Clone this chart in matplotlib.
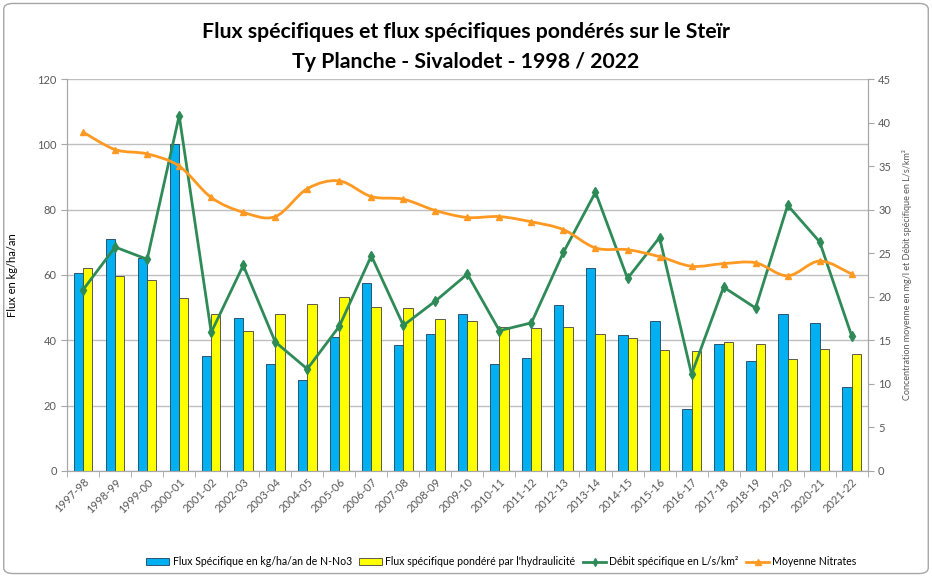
import numpy as np
import matplotlib
matplotlib.use("Agg")
import matplotlib.pyplot as plt
from matplotlib.path import Path
from matplotlib.patches import PathPatch, FancyBboxPatch
from matplotlib.lines import Line2D
from matplotlib.patches import Patch

plt.rcParams['font.family'] = ['Lato', 'DejaVu Sans']

# ---- data ----
campagnes = ['1997-98', '1998-99', '1999-00', '2000-01', '2001-02', '2002-03', '2003-04',
             '2004-05', '2005-06', '2006-07', '2007-08', '2008-09', '2009-10', '2010-11',
             '2011-12', '2012-13', '2013-14', '2014-15', '2015-16', '2016-17', '2017-18',
             '2018-19', '2019-20', '2020-21', '2021-22']
flux_spec = [60.7, 71.1, 65.3, 100.1, 35.2, 46.9, 32.8, 27.8, 41.0, 57.4, 38.4, 42.0, 47.9,
             32.6, 34.7, 50.7, 62.1, 41.6, 45.9, 18.9, 39.0, 33.6, 48.0, 45.4, 25.6]
flux_pond = [62.2, 59.8, 58.6, 53.0, 47.9, 42.8, 47.9, 51.0, 53.3, 50.3, 50.0, 46.6, 45.9,
             44.0, 43.9, 44.0, 41.8, 40.8, 37.0, 36.7, 39.5, 38.7, 34.2, 37.2, 35.7]
debit_spec = [20.8, 25.7, 24.3, 40.8, 15.9, 23.6, 14.8, 11.7, 16.6, 24.7, 16.7, 19.5, 22.6,
              16.1, 17.0, 25.1, 32.0, 22.1, 26.8, 11.1, 21.1, 18.7, 30.5, 26.3, 15.5]
moy_nitrates = [38.9, 36.9, 36.4, 35.0, 31.4, 29.7, 29.2, 32.4, 33.3, 31.5, 31.2, 29.9, 29.1,
                29.2, 28.6, 27.7, 25.6, 25.4, 24.6, 23.5, 23.8, 23.9, 22.4, 24.1, 22.6]

c_blue = '#00B0F0'
c_yellow = '#FFFF00'
c_green = '#2E8B57'
c_orange = '#FF9922'
c_text = '#595959'


def smooth_path(xs, ys):
    # Excel-like smoothed line: cubic bezier segments through the points
    xs = np.asarray(xs, float)
    ys = np.asarray(ys, float)
    verts = [(xs[0], ys[0])]
    codes = [Path.MOVETO]
    n = len(xs)
    for i in range(n - 1):
        p0 = i - 1 if i > 0 else i
        p3 = i + 2 if i + 2 < n else i + 1
        c1 = (xs[i] + (xs[i + 1] - xs[p0]) / 6, ys[i] + (ys[i + 1] - ys[p0]) / 6)
        c2 = (xs[i + 1] - (xs[p3] - xs[i]) / 6, ys[i + 1] - (ys[p3] - ys[i]) / 6)
        verts += [c1, c2, (xs[i + 1], ys[i + 1])]
        codes += [Path.CURVE4] * 3
    return Path(verts, codes)


fig = plt.figure(figsize=(9.32, 5.77), dpi=100)
fig.patches.append(FancyBboxPatch((0.004, 0.006), 0.992, 0.988, boxstyle='round,pad=0,rounding_size=0.01',
                                  transform=fig.transFigure, fc='none', ec='#A6A6A6', lw=1))
ax = fig.add_axes([0.072, 0.184, 0.859, 0.679])
ax2 = ax.twinx()

x = np.arange(len(campagnes))
w = 0.29
ax.bar(x - w / 2, flux_spec, w, color=c_blue, edgecolor='#1F3F5F', linewidth=0.6, zorder=2)
ax.bar(x + w / 2, flux_pond, w, color=c_yellow, edgecolor='#404040', linewidth=0.6, zorder=2)

ax.set_xlim(-0.5, len(campagnes) - 0.5)
ax.set_ylim(0, 120)
ax.set_yticks(range(0, 121, 20))
ax.grid(axis='y', color='#BFBFBF', linewidth=1)
ax.set_axisbelow(True)
ax.set_xticks(x)
ax.set_xticklabels(campagnes, rotation=45, ha='right', rotation_mode='anchor', fontsize=8, color=c_text)
ax.set_xticks(np.arange(-0.5, len(campagnes), 1), minor=True)
ax.tick_params(axis='x', which='major', length=0, pad=4)
ax.tick_params(axis='x', which='minor', length=4, color='#A6A6A6')
ax.tick_params(axis='y', labelsize=8, labelcolor=c_text, color='#A6A6A6', length=4)
ax.set_ylabel('Flux en kg/ha/an', fontsize=8, color='black', labelpad=14)

ax2.set_ylim(0, 45)
ax2.set_yticks(range(0, 46, 5))
ax2.tick_params(axis='y', labelsize=8, labelcolor=c_text, color='#A6A6A6', length=4)
ax2.set_ylabel('Concentration moyenne en mg/l et Débit spécifique en L/s/km²', fontsize=6.5,
               color=c_text, labelpad=8)

for a in (ax, ax2):
    for s in ('top', 'right', 'left', 'bottom'):
        a.spines[s].set_color('#A6A6A6')
    a.spines['top'].set_visible(False)

ax2.plot(x, debit_spec, color=c_green, lw=2, marker='d', ms=5, zorder=4)
ax2.add_patch(PathPatch(smooth_path(x, moy_nitrates), fc='none', ec=c_orange, lw=2, zorder=5))
ax2.plot(x, moy_nitrates, ls='none', marker='^', ms=5, color=c_orange, zorder=6)

fig.text(0.5, 0.945, 'Flux spécifiques et flux spécifiques pondérés sur le Steïr',
         ha='center', va='center', fontsize=15.3, fontweight='bold')
fig.text(0.5, 0.893, 'Ty Planche - Sivalodet - 1998 / 2022',
         ha='center', va='center', fontsize=15.3, fontweight='bold')

handles = [Patch(fc=c_blue, ec='#1F3F5F', lw=0.6),
           Patch(fc=c_yellow, ec='#404040', lw=0.6),
           Line2D([], [], color=c_green, lw=2, marker='d', ms=4),
           Line2D([], [], color=c_orange, lw=2, marker='^', ms=4)]
labels = ['Flux Spécifique en kg/ha/an de N-No3', 'Flux spécifique pondéré par l\'hydraulicité',
          'Débit spécifique en L/s/km²', 'Moyenne Nitrates']
fig.legend(handles, labels, loc='center', bbox_to_anchor=(0.538, 0.026), ncol=4, frameon=False,
           fontsize=7.6, handlelength=2.2, handletextpad=0.3, columnspacing=0.7)

fig.savefig('out.png', dpi=100)
